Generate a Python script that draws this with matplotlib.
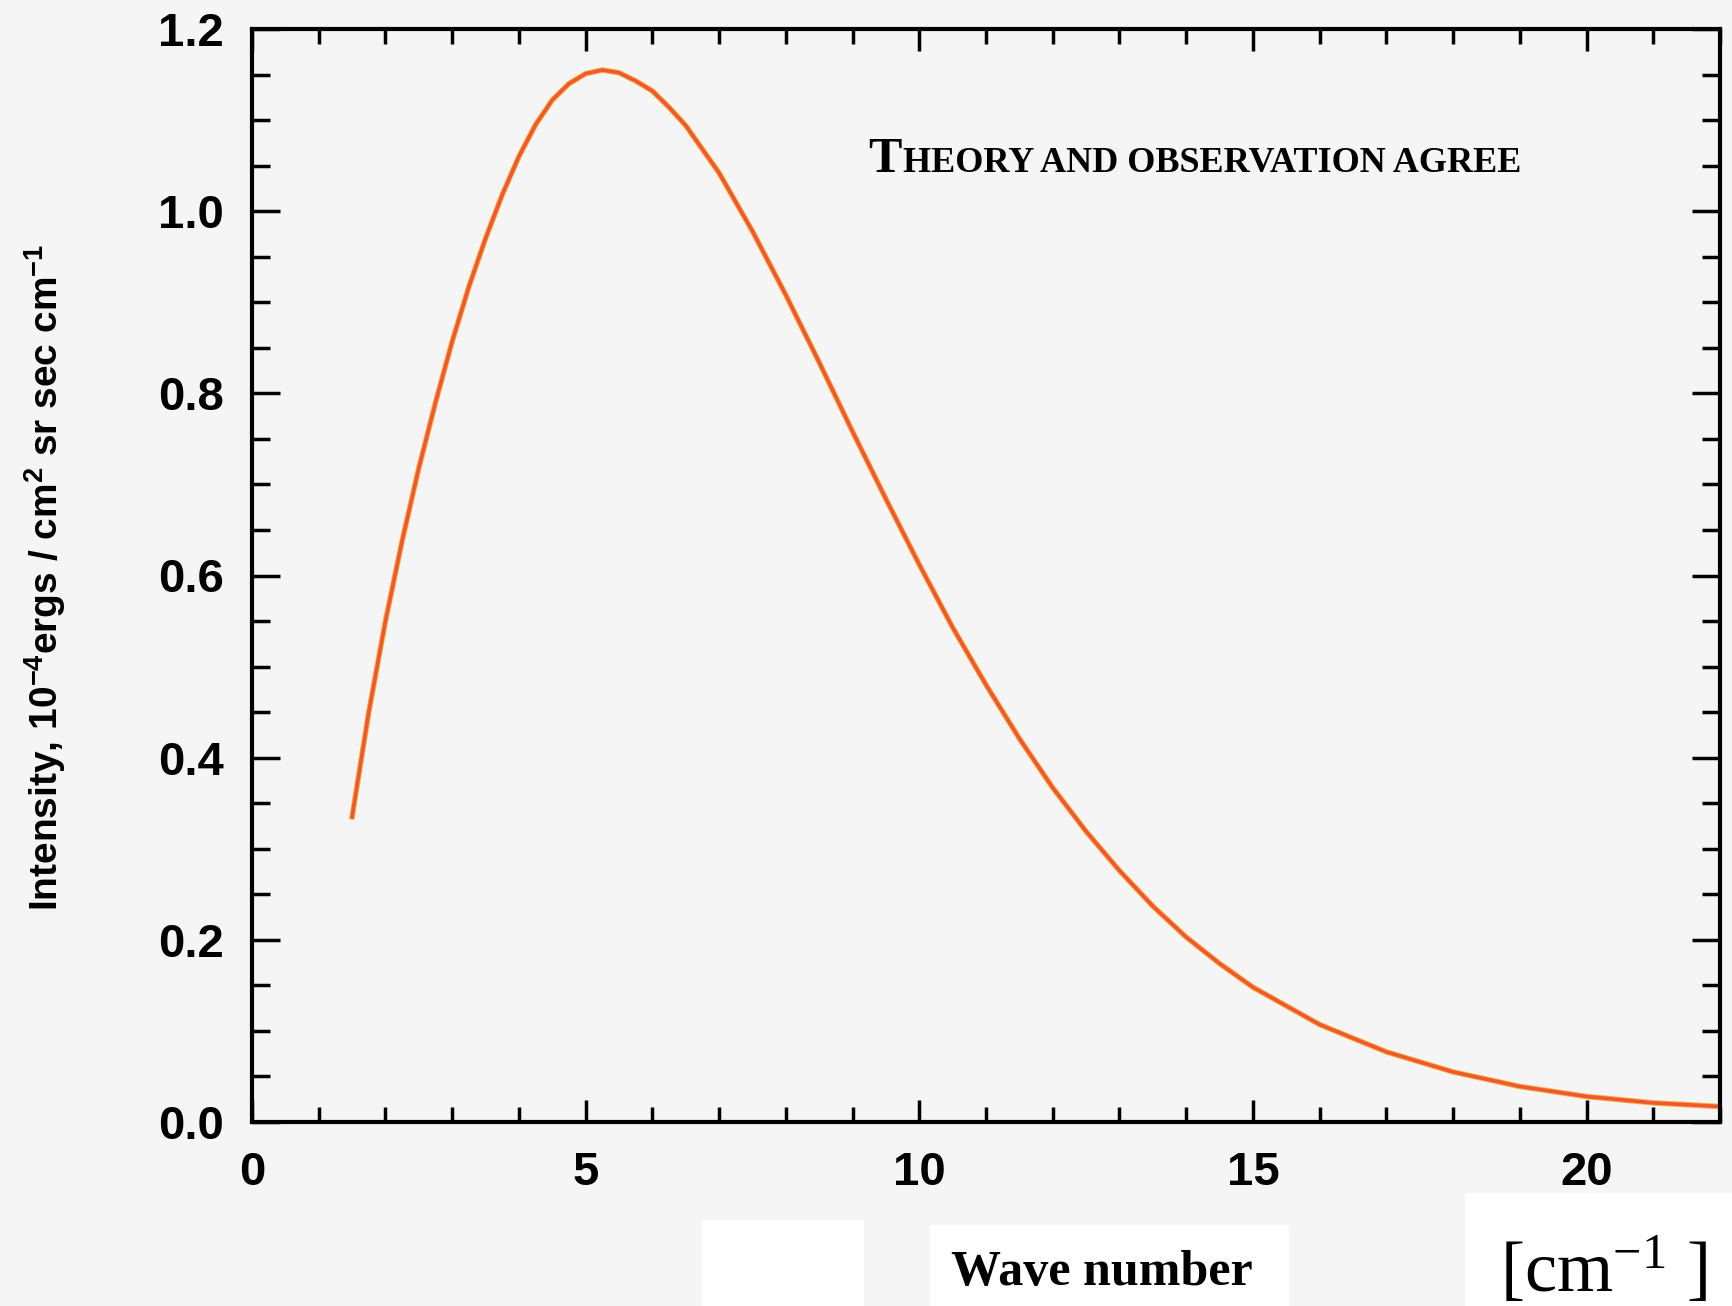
import numpy as np
import matplotlib
matplotlib.use("Agg")
import matplotlib.pyplot as plt
from matplotlib.patches import Rectangle
from matplotlib.ticker import MultipleLocator

# # values (wave number in cm^-1, intensity in 1e-4 erg units)
wavenumber = [1.5, 1.75, 2.0, 2.25, 2.5, 2.75, 3.0, 3.25, 3.5, 3.75, 4.0, 4.25, 4.5, 4.75,
              5.0, 5.25, 5.5, 5.75, 6.0, 6.25, 6.5, 6.75, 7.0, 7.5, 8.0, 8.5, 9.0, 9.5,
              10.0, 10.5, 11.0, 11.5, 12.0, 12.5, 13.0, 13.5, 14.0, 14.5, 15.0, 16.0,
              17.0, 18.0, 19.0, 20.0, 21.0, 22.0]
intensity = [0.335, 0.45, 0.55, 0.638, 0.718, 0.79, 0.857, 0.917, 0.97, 1.018, 1.06, 1.095,
             1.122, 1.14, 1.151, 1.155, 1.152, 1.143, 1.132, 1.114, 1.094, 1.068, 1.042,
             0.978, 0.908, 0.834, 0.758, 0.684, 0.612, 0.543, 0.48, 0.421, 0.367, 0.319,
             0.276, 0.237, 0.203, 0.174, 0.148, 0.107, 0.077, 0.055, 0.039, 0.028, 0.021,
             0.017]

x_ticks = [0, 5, 10, 15, 20]
y_ticks = [0.0, 0.2, 0.4, 0.6, 0.8, 1.0, 1.2]
y_ticklabels = ["0.0", "0.2", "0.4", "0.6", "0.8", "1.0", "1.2"]

title_big = "T"
title_rest = "HEORY AND OBSERVATION AGREE"
ylabel = r"Intensity, 10$\mathregular{^{-4}}$ergs / cm$\mathregular{^2}$ sr sec cm$\mathregular{^{-1}}$"
xlabel = "Wave number"
xunit = r"[cm$\mathregular{^{-1}}$ ]"

W, H = 1733, 1306
bg = "#f5f5f5"

fig = plt.figure(figsize=(W / 100, H / 100), dpi=100, facecolor=bg)
ax = fig.add_axes([252 / W, 1 - 1122 / H, (1720 - 252) / W, (1122 - 29) / H])
ax.set_facecolor(bg)

# yellowish halo under a red-orange core, like the scanned line
ax.plot(wavenumber, intensity, color="#f4b04a", lw=4.0, solid_joinstyle="round")
ax.plot(wavenumber, intensity, color="#f0582e", lw=2.6, solid_joinstyle="round")

ax.set_xlim(0, 22)
ax.set_ylim(0, 1.2)
ax.set_xticks(x_ticks)
ax.set_xticklabels([str(t) for t in x_ticks])
ax.set_yticks(y_ticks)
ax.set_yticklabels(y_ticklabels)
ax.xaxis.set_minor_locator(MultipleLocator(1))
ax.yaxis.set_minor_locator(MultipleLocator(0.05))

for s in ax.spines.values():
    s.set_linewidth(3)
    s.set_color("black")

ax.tick_params(axis="both", which="both", direction="in", top=True, right=True,
               width=2.5, color="black")
ax.tick_params(axis="x", which="major", length=16, pad=21)
ax.tick_params(axis="x", which="minor", length=11)
ax.tick_params(axis="y", which="major", length=20, pad=20)
ax.tick_params(axis="y", which="minor", length=13)
for lab in ax.get_xticklabels() + ax.get_yticklabels():
    lab.set_fontfamily("Liberation Sans")
    lab.set_fontweight("bold")
    lab.set_fontsize(34)

# title in small caps look
fig.text(868 / W, 1 - 172 / H, title_big, family="Liberation Serif", weight="bold",
         fontsize=36, va="baseline", ha="left")
fig.text(903 / W, 1 - 172 / H, title_rest, family="Liberation Serif", weight="bold",
         fontsize=26, va="baseline", ha="left")

# y label
fig.text(45 / W, 1 - 577 / H, ylabel, family="Liberation Sans", weight="bold",
         fontsize=28, rotation=90, ha="center", va="center")

# white boxes pasted at the bottom
for (x0, y0, x1) in [(702, 1220, 864), (930, 1225, 1289), (1465, 1193, 1733)]:
    fig.patches.append(Rectangle((x0 / W, 0), (x1 - x0) / W, (H - y0) / H,
                                 transform=fig.transFigure, facecolor="white",
                                 edgecolor="none", zorder=0))

fig.text(1102 / W, 1 - 1285 / H, xlabel, family="Liberation Serif", weight="bold",
         fontsize=36, ha="center", va="baseline")
fig.text(1604 / W, 1 - 1292 / H, xunit, family="Liberation Serif",
         fontsize=52, ha="center", va="baseline")

fig.savefig("out.png", dpi=100, facecolor=bg)
